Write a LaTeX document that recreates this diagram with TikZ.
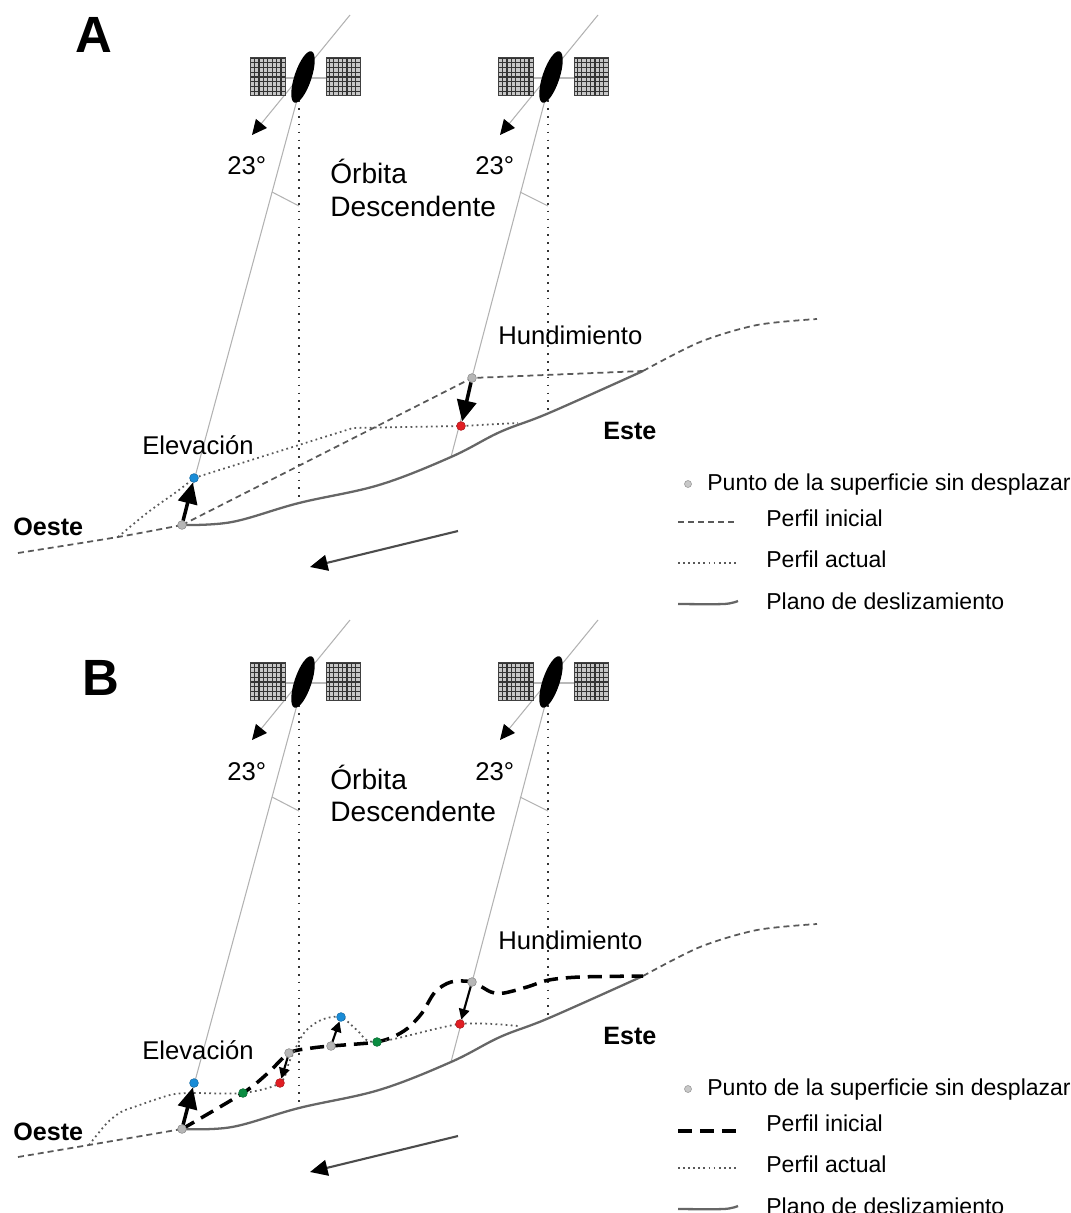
\documentclass[tikz,border=0pt]{standalone}
\usepackage{fontspec}
\setmainfont{Liberation Sans}
\usetikzlibrary{arrows.meta}

\definecolor{gris}{RGB}{182,182,182}
\definecolor{grisl}{RGB}{200,200,200}
\definecolor{azul}{RGB}{25,140,215}
\definecolor{rojo}{RGB}{225,30,35}
\definecolor{verde}{RGB}{10,140,65}

% satellite: two panels and the body
\tikzset{
  sat/.pic={
    \draw[gray!55, line width=1.1pt] (-18,1) -- (23,1);
    \fill[gray!45] (-53,-20) rectangle (-18,18);
    \fill[gray!45] (23,-20) rectangle (57,18);
    \draw[black!80, line width=0.75pt, xstep=0.088cm, ystep=0.095cm] (-53,-20) grid (-18,18);
    \draw[black!80, line width=0.75pt, xstep=0.088cm, ystep=0.095cm] (23,-20) grid (57,18);
    \draw[black!75, line width=0.5pt] (-53,-20) rectangle (-18,18);
    \draw[black!75, line width=0.5pt] (23,-20) rectangle (57,18);
    \fill[black, rotate=71.6] (0,0) ellipse (27 and 8.5);
  }
}

\begin{document}
\begin{tikzpicture}[x=0.02cm, y=-0.02cm,
    los/.style={gray!60, line width=0.6pt},
    orb/.style={gray!60, line width=0.6pt, -{Triangle[length=8.5pt, width=8pt, color=black]}},
    vert/.style={black!80, line width=1pt, dash pattern=on 1pt off 3.5pt},
    ground/.style={black!60, line width=1.3pt},
    ini/.style={black!65, line width=1pt, dash pattern=on 3.4pt off 2.3pt},
    inib/.style={black, line width=2pt, dash pattern=on 8pt off 4.5pt},
    act/.style={black!65, line width=1pt, dash pattern=on 1pt off 1.9pt},
    pt/.style={circle, fill=#1, draw=#1!75!black, line width=0.3pt, inner sep=0pt, minimum size=5pt},
    big/.style={line width=2pt, -{Triangle[length=12pt, width=11pt]}},
    small/.style={line width=1.2pt, -{Triangle[length=6pt, width=6pt]}},
    move/.style={black!70, line width=1.2pt, -{Triangle[length=10pt, width=9pt, color=black]}},
    lab/.style={font=\fontsize{14.6}{17}\selectfont, inner sep=0pt, anchor=base west},
    orbt/.style={lab, font=\fontsize{16}{19}\selectfont},
    lbold/.style={lab, font=\fontsize{14.3}{17}\selectfont\bfseries},
    leg/.style={lab, font=\fontsize{13.1}{15}\selectfont},
    letra/.style={lab, font=\fontsize{29}{34}\selectfont\bfseries}]

\useasboundingbox (0,0) rectangle (1071,1213);
\clip (0,0) rectangle (1071,1213);

%%%%%%%%%%%% A
\node[letra] (la) at (75,53) {A};

\coordinate (sat1) at (297,100);
\coordinate (sat2) at (545,100);
\coordinate (o1) at (350,15);
\coordinate (o2) at (598,15);
\coordinate (f1) at (252,135);
\coordinate (f2) at (500,135);
\coordinate (v1) at (299,100);
\coordinate (v1s) at (299,503);
\coordinate (v2) at (548,100);
\coordinate (v2s) at (548,413);
\coordinate (a1) at (272,192);
\coordinate (a1v) at (299,206);
\coordinate (a2) at (520,192);
\coordinate (a2v) at (548,206);
\coordinate (p1) at (182,525);
\coordinate (p2) at (194,478);
\coordinate (p3) at (472,378);
\coordinate (p4) at (461,426);
\coordinate (e2) at (451,457);
\coordinate (pie) at (643,371);

\draw[orb] (o1) -- (f1);
\draw[orb] (o2) -- (f2);
\draw[los] (sat1) -- (p1);
\draw[los] (sat2) -- (e2);
\draw[vert] (v1) -- (v1s);
\draw[vert] (v2) -- (v2s);
\draw[los] (a1) -- (a1v);
\draw[los] (a2) -- (a2v);
\pic at (303,77) {sat};
\pic at (551,77) {sat};

\node[lab] (g23a) at (227,175) {23°};
\node[lab] (g23b) at (475,175) {23°};
\node[orbt] (orb) at (330,184) {Órbita};
\node[orbt] (desc) at (330,216) {Descendente};
\node[lab] (hund) at (498,344) {Hundimiento};
\node[lab] (elev) at (142,454) {Elevación};
\node[lbold] (este) at (603,439) {Este};
\node[lbold] (oeste) at (13,535) {Oeste};

% perfiles
\draw[ground] plot[smooth, tension=0.6] coordinates {(p1) (232,522) (299,503) (379,485) (e2) (500,432) (549,413) (pie)};
\draw[ini] plot[smooth] coordinates {(18,553) (118,537) (p1)};
\draw[ini] (p1) -- (p3) -- (pie);
\draw[ini] plot[smooth] coordinates {(pie) (700,342) (757,325) (817,319)};
\draw[act] plot[smooth] coordinates {(118,537) (147,513) (179,490) (p2)};
\draw[act] (p2) -- (353,428) -- (p4) -- (518,423);

\node[pt=gris] (g1) at (p1) {};
\node[pt=azul] (b1) at (p2) {};
\node[pt=gris] (g2) at (p3) {};
\node[pt=rojo] (r1) at (p4) {};

\path
(g1) edge[big] (b1)
(g2) edge[big] (r1)
;

\coordinate (m1) at (458,531);
\coordinate (m2) at (310,567);
\draw[move] (m1) -- (m2);

% leyenda
\node[pt=grisl, minimum size=4pt] (lpt) at (688,484) {};
\node[leg] (l1) at (707,490) {Punto de la superficie sin desplazar};
\coordinate (li1) at (678,522);
\coordinate (li2) at (738,522);
\draw[ini] (li1) -- (li2);
\node[leg] (l2) at (766,526) {Perfil inicial};
\coordinate (la1) at (678,563);
\coordinate (la2) at (738,563);
\draw[act] (la1) -- (la2);
\node[leg] (l3) at (766,567) {Perfil actual};
\draw[ground] plot[smooth] coordinates {(678,604) (724,604) (738,601)};
\node[leg] (l4) at (766,609) {Plano de deslizamiento};

%%%%%%%%%%%% B
\node[letra] (lb) at (82,695) {B};

\begin{scope}[shift={(0,605)}]
\coordinate (sat1b) at (297,100);
\coordinate (sat2b) at (545,100);
\coordinate (o1b) at (350,15);
\coordinate (o2b) at (598,15);
\coordinate (f1b) at (252,135);
\coordinate (f2b) at (500,135);
\coordinate (v1b) at (299,100);
\coordinate (v1sb) at (299,503);
\coordinate (v2b) at (548,100);
\coordinate (v2sb) at (548,413);
\coordinate (a1b) at (272,192);
\coordinate (a1vb) at (299,206);
\coordinate (a2b) at (520,192);
\coordinate (a2vb) at (548,206);
\coordinate (q1) at (182,524);
\coordinate (q2) at (194,478);
\coordinate (q3) at (243,488);
\coordinate (q4) at (289,448);
\coordinate (q5) at (280,478);
\coordinate (q6) at (331,441);
\coordinate (q7) at (341,412);
\coordinate (q8) at (377,437);
\coordinate (q9) at (472,377);
\coordinate (q10) at (460,419);
\coordinate (e2b) at (451,457);
\coordinate (pieb) at (643,371);

\draw[orb] (o1b) -- (f1b);
\draw[orb] (o2b) -- (f2b);
\draw[los] (sat1b) -- (q1);
\draw[los] (sat2b) -- (e2b);
\draw[vert] (v1b) -- (v1sb);
\draw[vert] (v2b) -- (v2sb);
\draw[los] (a1b) -- (a1vb);
\draw[los] (a2b) -- (a2vb);
\pic at (303,77) {sat};
\pic at (551,77) {sat};

\node[lab] (g23c) at (227,175) {23°};
\node[lab] (g23d) at (475,175) {23°};
\node[orbt] (orbb) at (330,184) {Órbita};
\node[orbt] (descb) at (330,216) {Descendente};
\node[lab] (hundb) at (498,344) {Hundimiento};
\node[lab] (elevb) at (142,454) {Elevación};
\node[lbold] (esteb) at (603,439) {Este};
\node[lbold] (oesteb) at (13,535) {Oeste};

% perfiles
\draw[ground] plot[smooth, tension=0.6] coordinates {(q1) (232,522) (299,503) (379,485) (e2b) (500,432) (549,413) (pieb)};
\draw[ini] plot[smooth] coordinates {(18,552) (89,540) (q1)};
\draw[ini] plot[smooth] coordinates {(pieb) (700,342) (757,325) (817,319)};
\draw[inib] plot[smooth, tension=0.5] coordinates {(q1) (q3) (268,468) (q4) (312,443) (q6) (357,439) (q8) (393,432) (408,423) (422,408) (435,387) (451,377) (q9) (491,387) (504,388) (527,382) (549,375) (580,372) (pieb)};
\draw[act] plot[smooth, tension=0.5] coordinates {(89,540) (107,518) (121,507) (134,502) (170,490) (192,488) (q3) (q5) (290,455) (304,428) (321,415) (q7) (357,425) (q8) (q10) (518,421)};

\node[pt=gris] (g1b) at (q1) {};
\node[pt=azul] (b1b) at (q2) {};
\node[pt=verde] (v1p) at (q3) {};
\node[pt=gris] (g2b) at (q4) {};
\node[pt=rojo] (r1b) at (q5) {};
\node[pt=gris] (g3b) at (q6) {};
\node[pt=azul] (b2b) at (q7) {};
\node[pt=verde] (v2p) at (q8) {};
\node[pt=gris] (g4b) at (q9) {};
\node[pt=rojo] (r2b) at (q10) {};

\path
(g1b) edge[big] (b1b)
(g2b) edge[small] (r1b)
(g3b) edge[small] (b2b)
(g4b) edge[small] (r2b)
;

\coordinate (m1b) at (458,531);
\coordinate (m2b) at (310,567);
\draw[move] (m1b) -- (m2b);

% leyenda
\node[pt=grisl, minimum size=4pt] (lptb) at (688,484) {};
\node[leg] (l1b) at (707,490) {Punto de la superficie sin desplazar};
\coordinate (li1b) at (678,526);
\coordinate (li2b) at (738,526);
\draw[inib] (li1b) -- (li2b);
\node[leg] (l2b) at (766,526) {Perfil inicial};
\coordinate (la1b) at (678,563);
\coordinate (la2b) at (738,563);
\draw[act] (la1b) -- (la2b);
\node[leg] (l3b) at (766,567) {Perfil actual};
\draw[ground] plot[smooth] coordinates {(678,604) (724,604) (738,601)};
\node[leg] (l4b) at (766,609) {Plano de deslizamiento};
\end{scope}

\end{tikzpicture}
\end{document}
